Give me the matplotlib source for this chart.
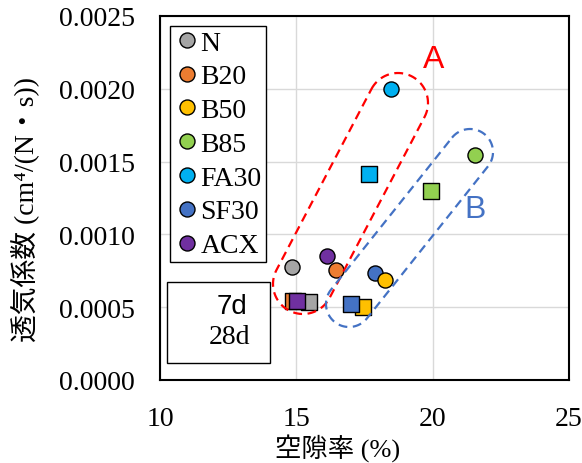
import numpy as np
import matplotlib
matplotlib.use("Agg")
import matplotlib.pyplot as plt
from matplotlib.lines import Line2D
from matplotlib.patches import Rectangle, Polygon
from matplotlib.transforms import IdentityTransform

# ---- data ----
mixes = ["N", "B20", "B50", "B85", "FA30", "SF30", "ACX"]
colors = ["#A5A5A5", "#ED7D31", "#FFC000", "#92D050", "#00B0F0", "#4472C4", "#7030A0"]
# 28d (circles)
void_28d = [14.85, 16.47, 18.27, 21.54, 18.46, 17.90, 16.14]
perm_28d = [0.000776, 0.000755, 0.000687, 0.001545, 0.00200, 0.000735, 0.000852]
# 7d (squares)
void_7d = [15.45, 14.88, 17.43, 19.95, 17.65, 17.00, 15.02]
perm_7d = [0.000533, 0.000540, 0.000503, 0.001296, 0.001415, 0.000520, 0.000540]

x_ticks = [10, 15, 20, 25]
y_ticks = [0.0, 0.0005, 0.0010, 0.0015, 0.0020, 0.0025]
y_tick_labels = ["0.0000", "0.0005", "0.0010", "0.0015", "0.0020", "0.0025"]

W, H = 582, 464
fig = plt.figure(figsize=(W / 100, H / 100), dpi=100)
ax = fig.add_axes([160 / W, (H - 381) / H, 409 / W, 364 / H])

serif = "Liberation Serif"
sans = "Liberation Sans"

ms = 118
for i in range(len(mixes)):
    ax.scatter(void_7d[i], perm_7d[i], s=ms, marker="s", color=colors[i],
               edgecolor="black", linewidth=1.0, zorder=3 + i * 0.01)
for i in reversed(range(len(mixes))):
    ax.scatter(void_28d[i], perm_28d[i], s=ms, marker="o", color=colors[i],
               edgecolor="black", linewidth=1.0, zorder=4 + (len(mixes) - i) * 0.01)

ax.set_xlim(10, 25)
ax.set_ylim(0, 0.0025)
ax.set_xticks(x_ticks)
ax.set_xticklabels([str(t) for t in x_ticks], fontfamily=serif, fontsize=20)
ax.set_yticks(y_ticks)
ax.set_yticklabels(y_tick_labels, fontfamily=serif, fontsize=20)
ax.tick_params(axis="both", length=0)
ax.tick_params(axis="y", pad=18)
ax.tick_params(axis="x", pad=19)
ax.grid(True, color="#D9D9D9", linewidth=1.0, zorder=0)
ax.set_axisbelow(True)
for sp in ax.spines.values():
    sp.set_linewidth(1.5)
    sp.set_color("black")

ax.set_xlabel("空隙率 (%)", fontsize=19, family=[serif, "Noto Sans CJK JP"])
ax.xaxis.set_label_coords((338 - 160) / 409, -0.148)
ax.set_ylabel("透気係数 (cm⁴/(N・s))", fontsize=20, family=[serif, "Noto Sans CJK JP"])
ax.yaxis.label.set_va("center")
ax.yaxis.set_label_coords((25 - 160) / 409, (381 - 209) / 364)

# legend
handles = [Line2D([], [], marker="o", linestyle="none", markersize=10.8,
                  markerfacecolor=c, markeredgecolor="black", markeredgewidth=1.0)
           for c in colors]
leg = ax.legend(handles, mixes, loc="upper left",
                bbox_to_anchor=((170 - 160) / 409, (381 - 27) / 364),
                prop={"family": serif, "size": 20}, frameon=True, fancybox=False,
                edgecolor="black", framealpha=1, borderaxespad=0,
                handlelength=0.95, handletextpad=0.0, labelspacing=0.3,
                borderpad=0.15)
leg.get_frame().set_linewidth(1.0)

# 7d / 28d box
ax.add_patch(Rectangle(((167 - 160) / 409, (381 - 364) / 364), (270 - 167) / 409,
                       (364 - 283) / 364, transform=ax.transAxes, facecolor="white",
                       edgecolor="black", linewidth=1.0, zorder=5))
ax.text((232 - 160) / 409, (381 - 307) / 364, "7d", transform=ax.transAxes,
        ha="center", va="center", fontsize=20, family=sans, zorder=6)
ax.text((230 - 160) / 409, (381 - 338) / 364, "28d", transform=ax.transAxes,
        ha="center", va="center", fontsize=20, family=serif, zorder=6)


def capsule(c1, c2, r, n=40):
    c1 = np.array(c1, float)
    c2 = np.array(c2, float)
    d = c1 - c2
    ang = np.arctan2(d[1], d[0])
    t1 = np.linspace(ang - np.pi / 2, ang + np.pi / 2, n)
    t2 = np.linspace(ang + np.pi / 2, ang + 3 * np.pi / 2, n)
    p1 = np.column_stack([c1[0] + r * np.cos(t1), c1[1] + r * np.sin(t1)])
    p2 = np.column_stack([c2[0] + r * np.cos(t2), c2[1] + r * np.sin(t2)])
    pts = np.vstack([p1, p2])
    pts[:, 1] = H - pts[:, 1]
    return pts


# group outlines (figure pixel coords, y down)
capA = capsule((398, 104), (303, 285), 30)
capB = capsule((470, 153), (349, 305), 23)
fig.patches.append(Polygon(capA, closed=True, fill=False, edgecolor="#FF0000",
                           linewidth=1.6, linestyle=(0, (4, 2.5)),
                           transform=IdentityTransform(), figure=fig))
fig.patches.append(Polygon(capB, closed=True, fill=False, edgecolor="#4472C4",
                           linewidth=1.6, linestyle=(0, (4, 2.5)),
                           transform=IdentityTransform(), figure=fig))
fig.text(434 / W, 1 - 60 / H, "A", color="#FF0000", fontsize=23, family=sans,
         ha="center", va="center")
fig.text(475 / W, 1 - 210 / H, "B", color="#4472C4", fontsize=23, family=sans,
         ha="center", va="center")

fig.savefig("out.png", dpi=100)
